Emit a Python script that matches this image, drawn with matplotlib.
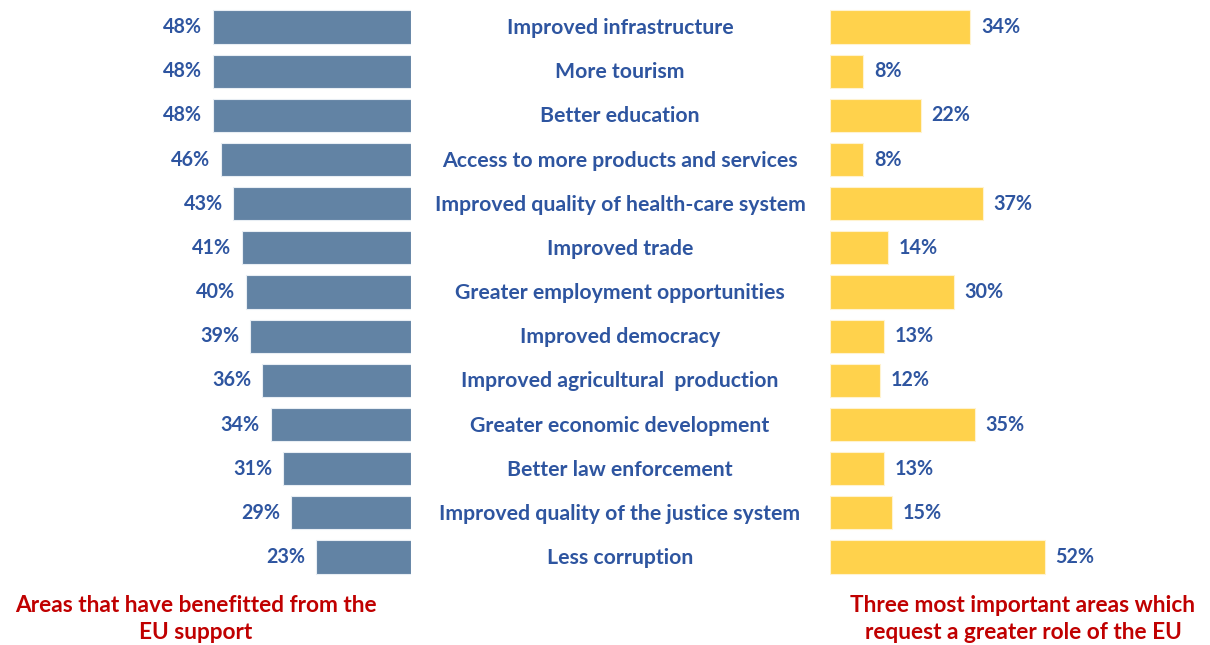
import matplotlib.pyplot as plt

categories = [
    "Improved infrastructure",
    "More tourism",
    "Better education",
    "Access to more products and services",
    "Improved quality of health-care system",
    "Improved trade",
    "Greater employment opportunities",
    "Improved democracy",
    "Improved agricultural  production",
    "Greater economic development",
    "Better law enforcement",
    "Improved quality of the justice system",
    "Less corruption",
]
benefitted = [48, 48, 48, 46, 43, 41, 40, 39, 36, 34, 31, 29, 23]
greater_role = [34, 8, 22, 8, 37, 14, 30, 13, 12, 35, 13, 15, 52]

left_title = "Areas that have benefitted from the\nEU support"
right_title = "Three most important areas which\nrequest a greater role of the EU"

BLUE_BAR = "#6283A4"
YELLOW_BAR = "#FFD24C"
TEXT_BLUE = "#2E55A0"
TEXT_RED = "#C00000"

plt.rcParams["font.family"] = ["Lato", "DejaVu Sans"]

W, H = 1210, 645
fig = plt.figure(figsize=(W / 100, H / 100), dpi=100)

px_per_pct = 4.13
n = len(categories)
row_px = 44.17
top_px = 27 - row_px / 2
bottom_px = top_px + n * row_px
ax_bottom = (H - bottom_px) / H
ax_height = (n * row_px) / H

# left panel: bars grow to the left from x=411
left_max = 60
left_w_px = left_max * px_per_pct
ax_l = fig.add_axes([(411 - left_w_px) / W, ax_bottom, left_w_px / W, ax_height])
# right panel: bars grow to the right from x=830
right_max = 90
right_w_px = right_max * px_per_pct
ax_r = fig.add_axes([830 / W, ax_bottom, right_w_px / W, ax_height])

y = list(range(n))
ax_l.barh(y, benefitted, height=0.75, color=BLUE_BAR, edgecolor="#E8EEF4", linewidth=0.8)
ax_r.barh(y, greater_role, height=0.75, color=YELLOW_BAR, edgecolor="#FFF3D0", linewidth=0.8)

ax_l.set_xlim(left_max, 0)
ax_r.set_xlim(0, right_max)
for ax in (ax_l, ax_r):
    ax.set_ylim(n - 0.5, -0.5)
    ax.axis("off")

for i, v in enumerate(benefitted):
    ax_l.text(v + 2.6, i, f"{v}%", ha="right", va="center",
              fontsize=14.2, fontweight="bold", color=TEXT_BLUE)
for i, v in enumerate(greater_role):
    ax_r.text(v + 2.6, i, f"{v}%", ha="left", va="center",
              fontsize=14.2, fontweight="bold", color=TEXT_BLUE)

# category labels in the middle
for i, label in enumerate(categories):
    fig.text(620 / W, 1 - (28 + i * row_px) / H, label, ha="center", va="center",
             fontsize=15.3, fontweight="bold", color=TEXT_BLUE)

fig.text(196 / W, 1 - 619 / H, left_title, ha="center", va="center",
         fontsize=16.3, fontweight="bold", color=TEXT_RED, linespacing=1.4)
fig.text(1023 / W, 1 - 619 / H, right_title, ha="center", va="center",
         fontsize=16.3, fontweight="bold", color=TEXT_RED, linespacing=1.4)

fig.savefig("out.png", dpi=100)
